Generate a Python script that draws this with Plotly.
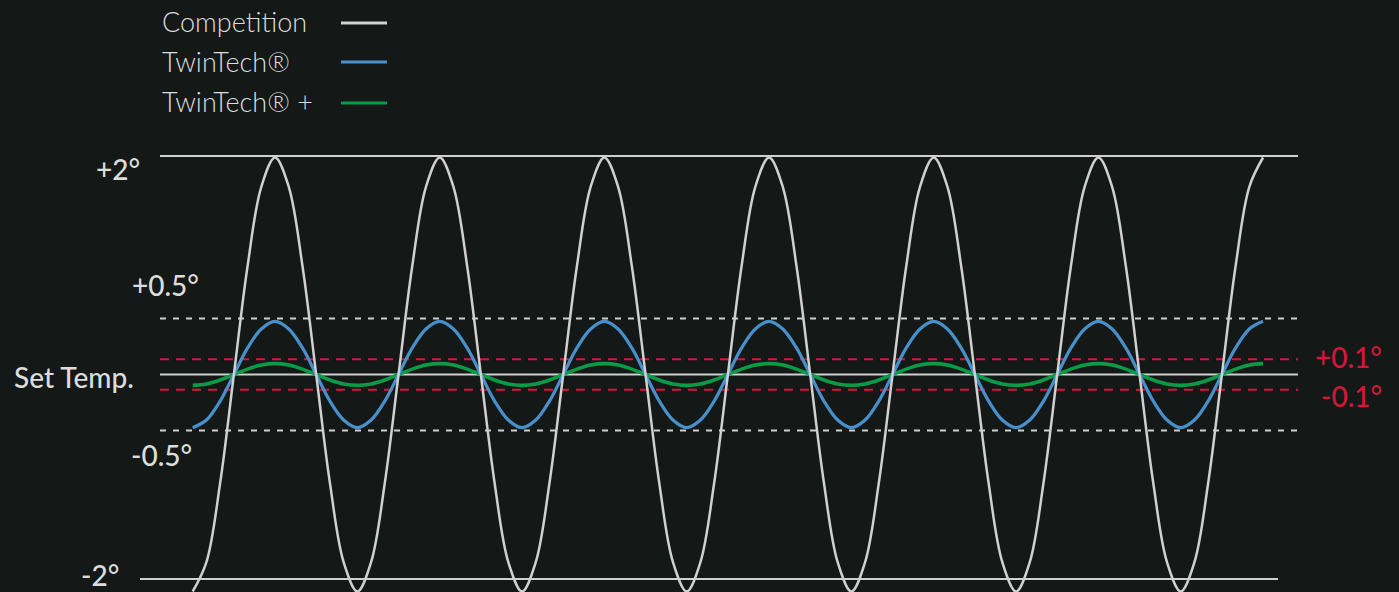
import plotly.graph_objects as go

# ---- data (time in 1/12-period steps) ----
series_names = ["Competition", "TwinTech®", "TwinTech® +"]

competition = [-2.0, -1.73, -1.0, 0.0, 1.0, 1.73, 2.0, 1.73, 1.0, 0.0, -1.0, -1.73,
               -2.0, -1.73, -1.0, 0.0, 1.0, 1.73, 2.0, 1.73, 1.0, 0.0, -1.0, -1.73,
               -2.0, -1.73, -1.0, 0.0, 1.0, 1.73, 2.0, 1.73, 1.0, 0.0, -1.0, -1.73,
               -2.0, -1.73, -1.0, 0.0, 1.0, 1.73, 2.0, 1.73, 1.0, 0.0, -1.0, -1.73,
               -2.0, -1.73, -1.0, 0.0, 1.0, 1.73, 2.0, 1.73, 1.0, 0.0, -1.0, -1.73,
               -2.0, -1.73, -1.0, 0.0, 1.0, 1.73, 2.0, 1.73, 1.0, 0.0, -1.0, -1.73,
               -2.0, -1.73, -1.0, 0.0, 1.0, 1.73, 2.0]

twintech = [-0.49, -0.42, -0.245, 0.0, 0.245, 0.42, 0.49, 0.42, 0.245, 0.0, -0.245, -0.42,
            -0.49, -0.42, -0.245, 0.0, 0.245, 0.42, 0.49, 0.42, 0.245, 0.0, -0.245, -0.42,
            -0.49, -0.42, -0.245, 0.0, 0.245, 0.42, 0.49, 0.42, 0.245, 0.0, -0.245, -0.42,
            -0.49, -0.42, -0.245, 0.0, 0.245, 0.42, 0.49, 0.42, 0.245, 0.0, -0.245, -0.42,
            -0.49, -0.42, -0.245, 0.0, 0.245, 0.42, 0.49, 0.42, 0.245, 0.0, -0.245, -0.42,
            -0.49, -0.42, -0.245, 0.0, 0.245, 0.42, 0.49, 0.42, 0.245, 0.0, -0.245, -0.42,
            -0.49, -0.42, -0.245, 0.0, 0.245, 0.42, 0.49]

twintech_plus = [-0.10, -0.087, -0.05, 0.0, 0.05, 0.087, 0.10, 0.087, 0.05, 0.0, -0.05, -0.087,
                 -0.10, -0.087, -0.05, 0.0, 0.05, 0.087, 0.10, 0.087, 0.05, 0.0, -0.05, -0.087,
                 -0.10, -0.087, -0.05, 0.0, 0.05, 0.087, 0.10, 0.087, 0.05, 0.0, -0.05, -0.087,
                 -0.10, -0.087, -0.05, 0.0, 0.05, 0.087, 0.10, 0.087, 0.05, 0.0, -0.05, -0.087,
                 -0.10, -0.087, -0.05, 0.0, 0.05, 0.087, 0.10, 0.087, 0.05, 0.0, -0.05, -0.087,
                 -0.10, -0.087, -0.05, 0.0, 0.05, 0.087, 0.10, 0.087, 0.05, 0.0, -0.05, -0.087,
                 -0.10, -0.087, -0.05, 0.0, 0.05, 0.087, 0.10]

time_steps = list(range(len(competition)))

# reference levels (display units)
level_top = 2.014
level_bottom = -1.885
level_wide = 0.515
level_narrow = 0.14

left_labels = ["+2°", "+0.5°", "Set Temp.", "-0.5°", "-2°"]
right_labels = ["+0.1°", "-0.1°"]

# ---- style ----
W, H = 1399, 592
BG = "#141918"
GREY = "#cfd0cf"
TEXT = "#dcdddc"
BLUE = "#4790cb"
GREEN = "#0b9a45"
RED = "#d3163a"
colors = [GREY, BLUE, GREEN]

STEP_PX = 164.67 / 12
X0_PX = 192.7

def px_x(p):
    return p / W

def px_y(p):
    return 1 - p / H

fig = go.Figure()
for name, vals, col, wd in [(series_names[2], twintech_plus, GREEN, 3.6),
                            (series_names[1], twintech, BLUE, 3.2),
                            (series_names[0], competition, GREY, 2.5)]:
    fig.add_trace(go.Scatter(x=time_steps, y=vals, mode="lines", name=name,
                             line=dict(color=col, width=wd, shape="spline", smoothing=1),
                             showlegend=False, hoverinfo="skip"))

shapes = []
def hline(y, x0p, x1p, color, dash="solid", width=2):
    shapes.append(dict(type="line", xref="paper", yref="y", x0=px_x(x0p), x1=px_x(x1p),
                       y0=y, y1=y, layer="below",
                       line=dict(color=color, width=width, dash=dash)))

hline(level_top, 160, 1298, GREY)
hline(level_bottom, 140, 1278, GREY)
hline(0, 160, 1298, GREY)
hline(level_wide, 160, 1298, GREY, dash="6px,7px")
hline(-level_wide, 160, 1298, GREY, dash="6px,7px")
hline(level_narrow, 160, 1298, RED, dash="9px,7px")
hline(-level_narrow, 160, 1298, RED, dash="9px,7px")

# legend swatches
for col, yp in zip(colors, [23, 62, 103]):
    shapes.append(dict(type="line", xref="paper", yref="paper",
                       x0=px_x(341), x1=px_x(387), y0=px_y(yp), y1=px_y(yp),
                       line=dict(color=col, width=3)))

annotations = []
for name, yp in zip(series_names, [21, 62, 102]):
    annotations.append(dict(text=name, xref="paper", yref="paper", x=px_x(160), y=px_y(yp),
                            xanchor="left", yanchor="middle", showarrow=False,
                            font=dict(family="Lato", size=27, color=TEXT, weight=300)))

for txt, xr, yp in zip(left_labels, [142, 201, 136, 194, 121], [169, 285, 377, 455, 575]):
    annotations.append(dict(text=txt, xref="paper", yref="paper", x=px_x(xr), y=px_y(yp),
                            xanchor="right", yanchor="middle", showarrow=False,
                            font=dict(family="Lato", size=28, color=TEXT, weight=500)))

for txt, yp in zip(right_labels, [357, 396]):
    annotations.append(dict(text=txt, xref="paper", yref="paper", x=px_x(1384), y=px_y(yp),
                            xanchor="right", yanchor="middle", showarrow=False,
                            font=dict(family="Lato", size=28, color=RED, weight=500)))

x_lo = -X0_PX / STEP_PX
x_hi = (W - X0_PX) / STEP_PX
y_hi = 374.5 / 108.5
y_lo = -(H - 374.5) / 108.5

fig.update_layout(
    width=W, height=H,
    margin=dict(l=0, r=0, t=0, b=0),
    paper_bgcolor=BG, plot_bgcolor=BG,
    xaxis=dict(range=[x_lo, x_hi], visible=False, fixedrange=True),
    yaxis=dict(range=[y_lo, y_hi], visible=False, fixedrange=True),
    shapes=shapes, annotations=annotations,
    showlegend=False,
)

fig.write_html("out.html", config={"displayModeBar": False},
               post_script="document.body.style.margin='0';document.body.style.background='%s';" % BG)
